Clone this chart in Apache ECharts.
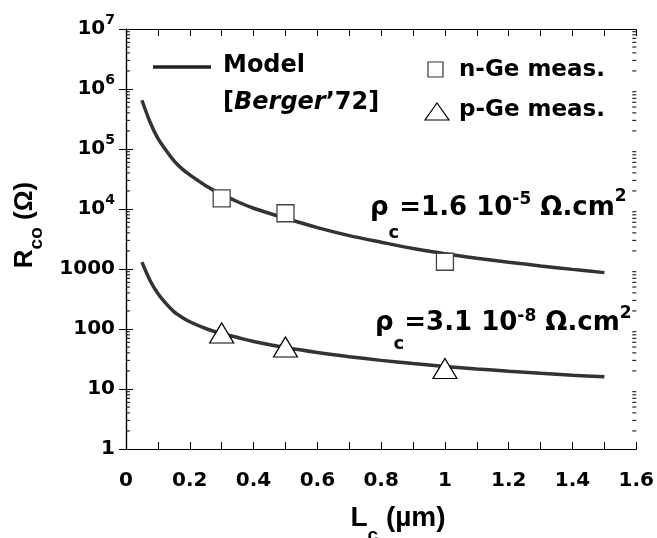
<!DOCTYPE html>
<html><head><meta charset="utf-8">
<script src="https://cdn.jsdelivr.net/npm/echarts@6/dist/echarts.min.js"></script>
<style>html,body{margin:0;padding:0;background:#fff}#c{width:657px;height:538px}</style>
</head><body><div id="c"></div>
<script>
// ---- data ----
const modelX = [0.05, 0.075, 0.1, 0.125, 0.15, 0.175, 0.2, 0.25, 0.3, 0.35, 0.4, 0.5, 0.6, 0.7, 0.8, 0.9, 1.0, 1.1, 1.2, 1.3, 1.4, 1.5];
const modelN = [650000, 285000, 150000, 96000, 64000, 47000, 37000, 24500, 17500, 13200, 10300, 7000, 4900, 3600, 2800, 2200, 1800, 1517, 1301, 1125, 986, 870];
const modelP = [1300, 650, 390, 267, 195, 157, 132, 102, 84, 72, 62, 49, 40.5, 34.5, 30, 26.5, 23.8, 21.6, 19.8, 18.3, 17, 16];
const measX = [0.3, 0.5, 1.0];
const measN = [15000, 8500, 1320];
const measP = [86, 50, 22];
const xTickLabels = ['0', '0.2', '0.4', '0.6', '0.8', '1', '1.2', '1.4', '1.6'];
const yTickLabels = ['1', '10', '100', '1000', '10|4', '10|5', '10|6', '10|7'];
const minorMult = [2, 3, 4, 5, 6, 7, 8, 9];
const decades = [1, 10, 100, 1000, 10000, 100000, 1000000];

const F = 'DejaVu Sans';
const FA = 'Liberation Sans';
const zip = (xs, ys) => xs.map((x, i) => [x, ys[i]]);
const minorVals = [];
decades.forEach(d => minorMult.forEach(m => minorVals.push([0, d * m])));

const chart = echarts.init(document.getElementById('c'), null, {renderer: 'canvas'});
const axisLine = {show: true, lineStyle: {color: '#000', width: 1.2}};
const option = {
  animation: false,
  backgroundColor: '#fff',
  grid: {left: 126, right: 19, top: 29, bottom: 89, containLabel: false},
  xAxis: [{
    type: 'value', min: 0, max: 1.6, interval: 0.1, position: 'bottom',
    axisLine: axisLine, splitLine: {show: false},
    axisTick: {inside: true, length: 7, lineStyle: {color: '#000', width: 1}},
    axisLabel: {margin: 22, color: '#000', fontFamily: F, fontWeight: 'bold', fontSize: 20,
      formatter: v => { const i = Math.round(v * 10); return i % 2 === 0 ? xTickLabels[i / 2] : ''; }}
  }, {
    type: 'value', min: 0, max: 1.6, interval: 0.1, position: 'top',
    axisLine: axisLine, splitLine: {show: false},
    axisTick: {inside: true, length: 7, lineStyle: {color: '#000', width: 1}},
    axisLabel: {show: false}
  }],
  yAxis: [{
    type: 'log', logBase: 10, min: 1, max: 1e7, splitNumber: 7, position: 'left',
    axisLine: axisLine, splitLine: {show: false}, minorTick: {show: false},
    axisTick: {inside: true, length: 7, lineStyle: {color: '#000', width: 1}},
    axisLabel: {margin: 11, color: '#000', fontFamily: F, fontWeight: 'bold', fontSize: 20,
      formatter: v => {
        const e = Math.round(Math.log10(v));
        const t = yTickLabels[e];
        if (t.indexOf('|') < 0) return '{b|' + t + '}';
        const p = t.split('|');
        return '{b|' + p[0] + '}{s|' + p[1] + '}';
      },
      rich: {
        b: {fontFamily: F, fontWeight: 'bold', fontSize: 20, color: '#000', lineHeight: 24},
        s: {fontFamily: F, fontWeight: 'bold', fontSize: 14, color: '#000', lineHeight: 16, padding: [0, 0, 17, 0]}
      }}
  }, {
    type: 'log', logBase: 10, min: 1, max: 1e7, splitNumber: 7, position: 'right',
    axisLine: axisLine, splitLine: {show: false},
    axisTick: {inside: true, length: 7, lineStyle: {color: '#000', width: 1}},
    axisLabel: {show: false}
  }],
  series: [
    {type: 'custom', name: 'minorTicks', xAxisIndex: 0, yAxisIndex: 0, silent: true, clip: false,
      data: minorVals, encode: {x: 0, y: 1}, z: 1,
      renderItem: (params, api) => {
        const v = api.value(1);
        const pL = api.coord([0, v]);
        const pR = api.coord([1.6, v]);
        return {type: 'group', children: [
          {type: 'line', shape: {x1: pL[0], y1: pL[1], x2: pL[0] + 4, y2: pL[1]}, style: {stroke: '#000', lineWidth: 1}},
          {type: 'line', shape: {x1: pR[0], y1: pR[1], x2: pR[0] - 4, y2: pR[1]}, style: {stroke: '#000', lineWidth: 1}}
        ]};
      }},
    {type: 'line', name: 'model n', data: zip(modelX, modelN), smooth: 0.3, symbol: 'none',
      lineStyle: {color: '#333', width: 3.5}, z: 2},
    {type: 'line', name: 'model p', data: zip(modelX, modelP), smooth: 0.3, symbol: 'none',
      lineStyle: {color: '#333', width: 3.5}, z: 2},
    {type: 'scatter', name: 'n-Ge meas.', data: zip(measX, measN), symbol: 'rect', symbolSize: 17,
      itemStyle: {color: '#fff', borderColor: '#444', borderWidth: 1.3, opacity: 1}, z: 5},
    {type: 'scatter', name: 'p-Ge meas.', data: zip(measX, measP), symbol: 'triangle', symbolSize: [24, 20],
      itemStyle: {color: '#fff', borderColor: '#000', borderWidth: 1.2, opacity: 1}, z: 5}
  ],
  graphic: [
    // legend
    {type: 'line', shape: {x1: 153, y1: 67, x2: 211, y2: 67}, style: {stroke: '#222', lineWidth: 3.5}},
    {type: 'text', x: 223, y: 66, style: {text: 'Model', font: 'bold 24px "DejaVu Sans"', fill: '#000', verticalAlign: 'middle'}},
    {type: 'text', x: 223, y: 103, style: {text: '{n|[}{i|Berger}{n|\u201972]}', verticalAlign: 'middle',
      rich: {n: {fontFamily: F, fontWeight: 'bold', fontSize: 24, fill: '#000'},
             i: {fontFamily: F, fontWeight: 'bold', fontStyle: 'italic', fontSize: 24, fill: '#000'}}}},
    {type: 'rect', shape: {x: 428, y: 62, width: 15, height: 15}, style: {fill: '#fff', stroke: '#333', lineWidth: 1.2}},
    {type: 'text', x: 459, y: 70, style: {text: 'n-Ge meas.', font: 'bold 23px "DejaVu Sans"', fill: '#000', verticalAlign: 'middle'}},
    {type: 'polygon', shape: {points: [[425, 120], [449, 120], [437, 103]]}, style: {fill: '#fff', stroke: '#000', lineWidth: 1.2}},
    {type: 'text', x: 459, y: 110, style: {text: 'p-Ge meas.', font: 'bold 23px "DejaVu Sans"', fill: '#000', verticalAlign: 'middle'}},
    // annotations
    {type: 'text', x: 370, y: 208, style: {text: '{m|\u03c1}{sub|c}{m|=1.6 10}{sup|-5}{m| \u03a9.cm}{sup2|2}', verticalAlign: 'middle',
      rich: {m: {fontFamily: F, fontWeight: 'bold', fontSize: 26, fill: '#000', lineHeight: 30},
             sub: {fontFamily: F, fontWeight: 'bold', fontSize: 18, fill: '#000', lineHeight: 20, padding: [51, 0, 0, 0]},
             sup: {fontFamily: F, fontWeight: 'bold', fontSize: 17, fill: '#000', lineHeight: 20, padding: [0, 0, 17, 0]},
             sup2: {fontFamily: F, fontWeight: 'bold', fontSize: 17, fill: '#000', lineHeight: 20, padding: [0, 0, 22, 0]}}}},
    {type: 'text', x: 375, y: 323, style: {text: '{m|\u03c1}{sub|c}{m|=3.1 10}{sup|-8}{m| \u03a9.cm}{sup2|2}', verticalAlign: 'middle',
      rich: {m: {fontFamily: F, fontWeight: 'bold', fontSize: 26, fill: '#000', lineHeight: 30},
             sub: {fontFamily: F, fontWeight: 'bold', fontSize: 18, fill: '#000', lineHeight: 20, padding: [42, 0, 0, 0]},
             sup: {fontFamily: F, fontWeight: 'bold', fontSize: 17, fill: '#000', lineHeight: 20, padding: [0, 0, 13, 0]},
             sup2: {fontFamily: F, fontWeight: 'bold', fontSize: 17, fill: '#000', lineHeight: 20, padding: [0, 0, 18, 0]}}}},
    // axis names
    {type: 'text', x: 25, y: 225, rotation: Math.PI / 2, style: {text: '{m|R}{sub|co}{m| (\u03a9)}', align: 'center', verticalAlign: 'middle',
      rich: {m: {fontFamily: FA, fontWeight: 'bold', fontSize: 26, fill: '#000', lineHeight: 30},
             sub: {fontFamily: FA, fontWeight: 'bold', fontSize: 19, fill: '#000', lineHeight: 20, padding: [23, 0, 0, 0]}}}},
    {type: 'text', x: 398, y: 518, style: {text: '{m|L}{sub|c}{m| (\u00b5m)}', align: 'center', verticalAlign: 'middle',
      rich: {m: {fontFamily: FA, fontWeight: 'bold', fontSize: 28, fill: '#000', lineHeight: 30},
             sub: {fontFamily: FA, fontWeight: 'bold', fontSize: 19, fill: '#000', lineHeight: 20, padding: [36, 0, 0, 0]}}}}
  ]
};
chart.setOption(option);
</script>
</body></html>
